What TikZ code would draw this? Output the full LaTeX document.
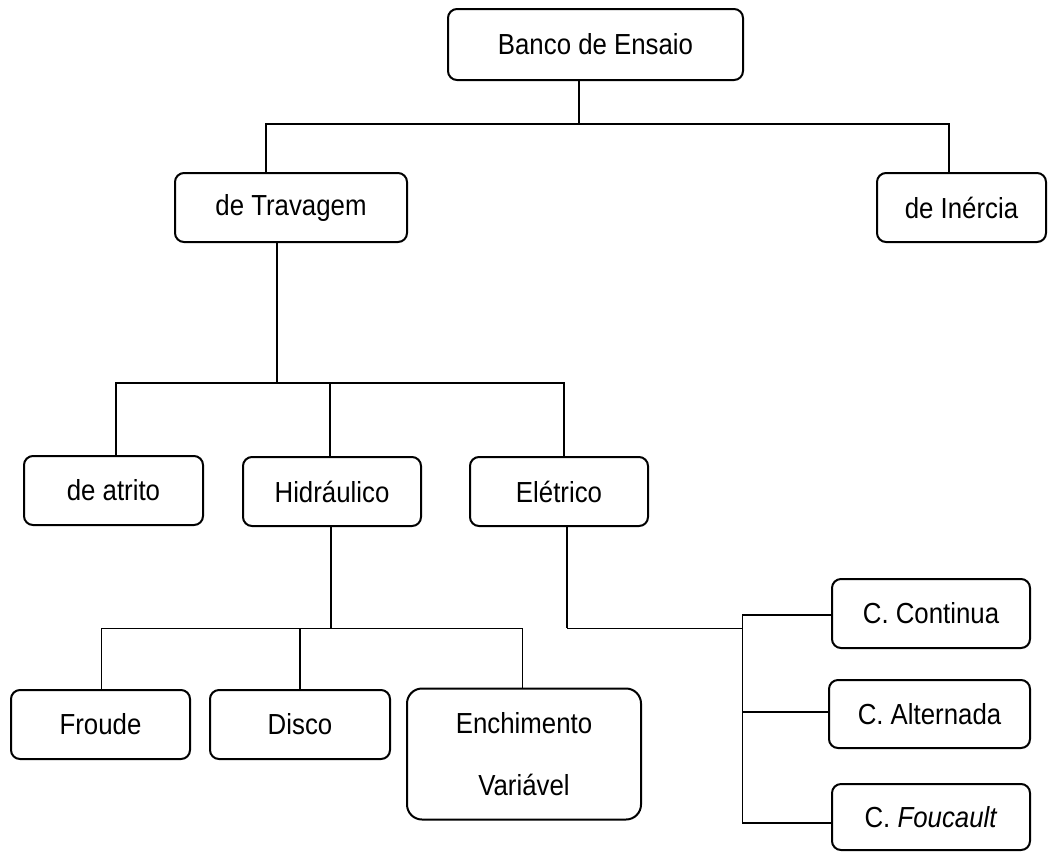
\documentclass[tikz,border=0pt]{standalone}
\usepackage{fontspec}
\setmainfont[FakeStretch=0.89]{Liberation Sans}
\begin{document}
\begin{tikzpicture}[x=1pt,y=-1pt,
  box/.style={draw,line width=2pt,rounded corners=9pt,inner sep=0pt,align=center,
    font=\fontsize{29}{34}\selectfont},
  conn/.style={line width=1.6pt},
  thinconn/.style={line width=1pt}]
\useasboundingbox (0,0) rectangle (1048,852);
\fill[white] (0,0) rectangle (1048,852);
% nodes
\node[box,minimum width=295pt,minimum height=71pt] (banco) at (595.5,44.5) {Banco de Ensaio};
\node[box,minimum width=232pt,minimum height=69pt] (travagem) at (291,207.5) {de Travagem};
\node[box,minimum width=169pt,minimum height=69pt] (inercia) at (961.5,207.5) {de Inércia};
\node[box,minimum width=179pt,minimum height=69pt] (atrito) at (113.5,490.5) {de atrito};
\node[box,minimum width=178pt,minimum height=69pt] (hidraulico) at (332,491.5) {Hidráulico};
\node[box,minimum width=178pt,minimum height=69pt] (eletrico) at (559,491.5) {Elétrico};
\node[box,minimum width=179pt,minimum height=69pt] (froude) at (100.5,724.5) {Froude};
\node[box,minimum width=180pt,minimum height=69pt] (disco) at (300,724.5) {Disco};
\node[box,rounded corners=15pt,minimum width=234pt,minimum height=131pt,font=\fontsize{29}{62}\selectfont] (ench) at (524,754) {Enchimento\\Variável};
\node[box,minimum width=198pt,minimum height=69pt] (continua) at (931,613.5) {C. Continua};
\node[box,minimum width=201pt,minimum height=68pt] (alternada) at (929.5,714) {C. Alternada};
\node[box,minimum width=198pt,minimum height=66pt] (foucault) at (931,817) {C. \textit{Foucault}};
% level 1
\coordinate (b0) at (579,124);
\coordinate (bL) at (266,124);
\coordinate (bR) at (949,124);
\draw[conn] (banco.south -| b0) -- (b0);
\draw[conn] (travagem.north -| bL) -- (bL) -- (bR) -- (inercia.north -| bR);
% level 2
\coordinate (t0) at (277,383);
\coordinate (tL) at (116,383);
\coordinate (tM) at (330,383);
\coordinate (tR) at (564,383);
\draw[conn] (travagem.south -| t0) -- (t0);
\draw[conn] (atrito.north -| tL) -- (tL) -- (tR) -- (eletrico.north -| tR);
\draw[conn] (tM) -- (hidraulico.north -| tM);
% level 3 (hidraulico)
\coordinate (h0) at (331,628);
\coordinate (hL) at (101,628);
\coordinate (hM) at (300,628);
\coordinate (hR) at (522,628);
\draw[conn] (hidraulico.south -| h0) -- (h0);
\draw[thinconn] (froude.north -| hL) -- (hL) -- (hR) -- (ench.north -| hR);
\draw[conn] (hM) -- (disco.north -| hM);
% level 3 (eletrico)
\coordinate (e0) at (567,628);
\coordinate (e1) at (742,628);
\coordinate (eT) at (742,615);
\coordinate (eM) at (742,712);
\coordinate (eB) at (742,823);
\draw[conn] (eletrico.south -| e0) -- (e0);
\draw[thinconn] (e0) -- (e1);
\draw[thinconn] (eT) -- (eB);
\draw[conn] (eT) -- (continua.west |- eT);
\draw[conn] (eM) -- (alternada.west |- eM);
\draw[conn] (eB) -- (foucault.west |- eB);
\end{tikzpicture}
\end{document}
